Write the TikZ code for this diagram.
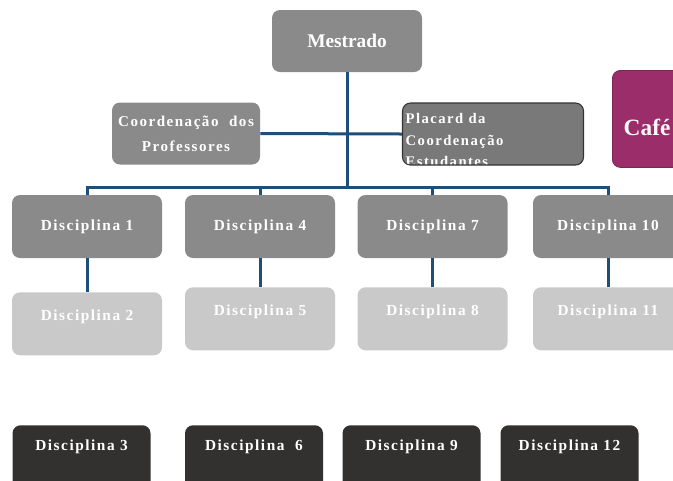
\documentclass[tikz,border=0pt]{standalone}
\usepackage{fontspec}
\setmainfont{Liberation Serif}
\newfontfamily\spaced[LetterSpace=10]{Liberation Serif}
\usetikzlibrary{positioning,calc}

\definecolor{boxgray}{HTML}{8A8A8A}
\definecolor{boxlight}{HTML}{C9C9C9}
\definecolor{boxdark}{HTML}{333130}
\definecolor{boxplac}{HTML}{797979}
\definecolor{boxcafe}{HTML}{9B2D6B}
\definecolor{linkblue}{HTML}{1F4E79}

\begin{document}
\begin{tikzpicture}[
    x=0.75pt,y=-0.75pt,
    box/.style={rectangle,rounded corners=6pt,text=white,inner sep=0pt,
        font=\spaced\bfseries\fontsize{11.5}{14}\selectfont},
    head/.style={box,fill=boxgray,minimum width=112.5pt,minimum height=46.5pt,
        font=\bfseries\fontsize{14.5}{16}\selectfont},
    side/.style={box,fill=boxgray,minimum width=111pt,minimum height=46.5pt,align=center,
        font=\spaced\bfseries\fontsize{11.3}{18.5}\selectfont},
    plac/.style={box,fill=boxplac,draw=black!80,line width=0.8pt,minimum width=135.75pt,minimum height=46.5pt},
    cafe/.style={box,fill=boxcafe,draw=boxcafe!80!black,line width=0.6pt,anchor=north west,
        text width=45pt,inner xsep=8.5pt,align=left,text height=49pt,text depth=23.75pt,
        text=white!90!pink,font=\bfseries\fontsize{17.5}{19}\selectfont},
    sub/.style={box,fill=boxgray,minimum width=112.5pt,minimum height=47.25pt},
    subl/.style={box,fill=boxlight,anchor=north,minimum width=112.5pt,text height=21pt,text depth=26.25pt},
    subd/.style={box,fill=boxdark,anchor=north,minimum width=103.5pt,text height=19pt,text depth=30pt},
    link/.style={draw=linkblue,line width=2.25pt}
]
    \useasboundingbox (0,0) rectangle (673,480);

    % top of the chart
    \node[head] (m) at (347,41) {Mestrado};
    \node[side] (cp) at (186,133.5) {Coordenação~ dos\\Professores};
    \node[plac,path picture={
        \node[anchor=north west,inner sep=0pt,minimum width=0pt,minimum height=0pt,
            align=left,text=white,font=\spaced\bfseries\fontsize{11}{16}\selectfont]
            at ([xshift=2pt,yshift=-7.5pt]path picture bounding box.north west)
            {Placard da\\Coordenação\\Estudantes};}] (pc) at (493,134) {};
    \node[cafe] (cf) at (612,70) {Café};
    \coordinate (bus) at (347,187);

    % disciplines, first row
    \node[sub] (d1) at (87,226.5) {Disciplina 1};
    \node[sub] (d4) at (260,226.5) {Disciplina 4};
    \node[sub] (d7) at (432.5,226.5) {Disciplina 7};
    \node[sub] (d10) at (608,226.5) {Disciplina 10};

    % second row
    \node[subl] (d2) at (87,292) {Disciplina 2};
    \node[subl] (d5) at (260,287) {Disciplina 5};
    \node[subl] (d8) at (432.5,287) {Disciplina 8};
    \node[subl] (d11) at (608,287) {Disciplina 11};

    % third row
    \node[subd] (d3) at (81.5,425) {Disciplina 3};
    \node[subd] (d6) at (254,425) {Disciplina~ 6};
    \node[subd] (d9) at (411.5,425) {Disciplina 9};
    \node[subd] (d12) at (569.5,425) {Disciplina 12};

    % connectors
    \draw[link] (m.south) -- (bus);
    \draw[link] (cp.east) -- (pc.west);
    \draw[link] (d1.north) |- (bus) -| (d10.north);
    \draw[link] (d4.north) -- (d4.north |- bus);
    \draw[link] (d7.north) -- (d7.north |- bus);
    \draw[link] (d1.south) -- (d2.north);
    \draw[link] (d4.south) -- (d5.north);
    \draw[link] (d7.south) -- (d8.north);
    \draw[link] (d10.south) -- (d11.north);
\end{tikzpicture}
\end{document}
